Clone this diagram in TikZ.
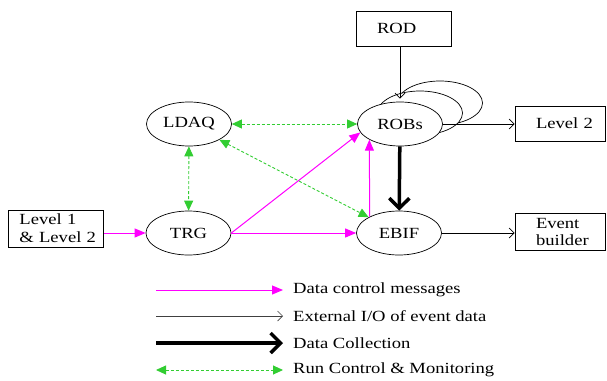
\documentclass[tikz,border=0pt]{standalone}
\usepackage{fontspec}
\setmainfont{Liberation Serif}[FakeStretch=1.2]
\usetikzlibrary{shapes.geometric,arrows.meta}
\definecolor{mag}{RGB}{255,0,255}
\definecolor{grn}{RGB}{50,205,50}
\begin{document}
\begin{tikzpicture}[x=1pt,y=-1pt,
  every node/.style={font=\fontsize{15.5}{18}\selectfont},
  ell/.style={ellipse,draw,fill=white,minimum width=85pt,minimum height=44pt,inner sep=0pt,line width=0.7pt},
  boxnode/.style={rectangle,draw,inner xsep=0pt,inner ysep=0pt,align=left,line width=0.7pt},
  magarrow/.style={mag,line width=1pt,-{Triangle[length=11pt,width=9pt]}},
  grnarrow/.style={grn,line width=0.9pt,dash pattern=on 3pt off 2pt,{Triangle[length=10pt,width=9pt]}-{Triangle[length=10pt,width=9pt]}},
  blkarrow/.style={black,line width=0.7pt,-{Straight Barb[length=5pt,width=10pt]}},
  thickarrow/.style={black,line width=3.5pt,-{Straight Barb[length=10pt,width=20pt]}},
  legtext/.style={anchor=west,inner sep=0pt}
]
\useasboundingbox (0,0) rectangle (607,380);
% boxes
\node[boxnode,minimum width=95pt,minimum height=35pt,text width=95pt] (rod) at (403.5,28.5) {\hspace*{21pt}ROD};
\node[boxnode,minimum width=90pt,minimum height=35pt,text width=90pt] (lev2) at (560,123.5) {\hspace*{21pt}Level 2};
\node[boxnode,minimum width=90pt,minimum height=37pt,text width=90pt,font=\fontsize{15.5}{17}\selectfont] (evb) at (560,231.5) {\hspace*{21pt}Event\\\hspace*{21pt}builder};
\node[boxnode,minimum width=95pt,minimum height=37pt,text width=95pt] (lev1) at (56,228.5) {\hspace*{11pt}Level 1\\\hspace*{11pt}\& Level 2};
% ellipses
\node[ell] (robsC) at (440,103) {};
\node[ell] (robsB) at (420,113) {};
\node[ell] (robs) at (400,124) {ROBs};
\node[ell] (ldaq) at (189,124) {LDAQ};
\node[ell] (trg) at (188.5,233) {TRG};
\node[ell] (ebif) at (399,233) {EBIF};
% connectors
\draw[blkarrow] (robs.north |- rod.south) -- ([yshift=3pt]robs.north);
\draw[blkarrow] (robs) -- (lev2.west |- robs);
\draw[blkarrow] (ebif) -- (evb.west |- ebif);
\draw[thickarrow] (robs) -- (ebif);
\draw[magarrow] (lev1.east |- trg) -- (trg);
\draw[magarrow] (trg) -- (ebif);
\draw[magarrow] (trg.east) -- (robs.192);
\draw[magarrow] (ebif.151) -- (robs.207);
\draw[grnarrow] (ldaq) -- (robs);
\draw[grnarrow] (ldaq) -- (trg);
\draw[grnarrow] (ldaq) -- (ebif);
% legend
\coordinate (la1) at (156,290); \coordinate (lb1) at (283,290);
\coordinate (la2) at (156,316); \coordinate (lb2) at (283,316);
\coordinate (la3) at (156,343); \coordinate (lb3) at (283,343);
\coordinate (la4) at (156,370); \coordinate (lb4) at (283,370);
\draw[magarrow] (la1) -- (lb1);
\draw[blkarrow,black!75] (la2) -- (lb2);
\draw[thickarrow] (la3) -- (lb3);
\draw[grnarrow] (la4) -- (lb4);
\node[legtext] (t1) at (293,290) {Data control messages};
\node[legtext] (t2) at (293,316) {External I/O of event data};
\node[legtext] (t3) at (293,343) {Data Collection};
\node[legtext] (t4) at (293,370) {Run Control \& Monitoring};
\end{tikzpicture}
\end{document}
